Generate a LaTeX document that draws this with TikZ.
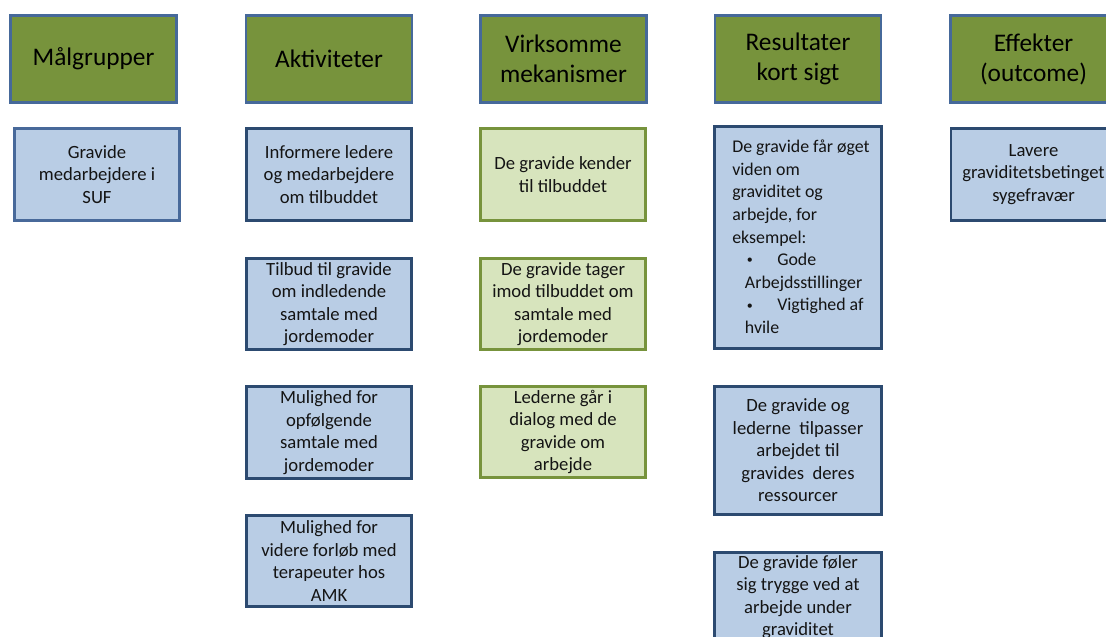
\documentclass[tikz,border=0pt]{standalone}
\usepackage{fontspec}
\setmainfont{Carlito}
\definecolor{headfill}{HTML}{77933C}
\definecolor{headborder}{HTML}{46699A}
\definecolor{boxfill}{HTML}{B9CDE5}
\definecolor{darkborder}{HTML}{2C4A70}
\definecolor{midborder}{HTML}{48699A}
\definecolor{greenfill}{HTML}{D7E4BD}
\definecolor{greenborder}{HTML}{77933C}
\definecolor{txt}{HTML}{141414}
\newcommand{\bodyfont}{\fontsize{14}{16.9}\selectfont}
\newcommand{\resfont}{\fontsize{13.4}{16.9}\selectfont}
\newcommand{\smallbullet}{\raisebox{1.2pt}{\fontsize{9}{9}\selectfont •}}
\begin{document}
\begin{tikzpicture}[x=0.75pt,y=-0.75pt,
  head/.style={draw=headborder, fill=headfill, line width=2.2pt,
    minimum width=124.5pt, minimum height=65.25pt, inner sep=0pt,
    align=center, font=\fontsize{19}{22.5}\selectfont, text=black},
  bluebox/.style={draw=darkborder, fill=boxfill, line width=2.2pt,
    minimum width=123.75pt, inner sep=0pt, align=center,
    font=\bodyfont, text=txt},
  greenbox/.style={bluebox, draw=greenborder, fill=greenfill},
  lightbox/.style={bluebox, draw=midborder},
  hfour/.style={minimum height=68.5pt},
  hfive/.style={minimum height=69pt}
]
\useasboundingbox (0,0) rectangle (1106,636);
\clip (0,0) rectangle (1106,636);

% headers
\node[head] (h1) at (93.5,59) {Målgrupper};
\node[head] (h2) at (329,59) {Aktiviteter};
\node[head] (h3) at (563.5,59) {Virksomme\\mekanismer};
\node[head] (h4) at (798,59) {Resultater\\kort sigt};
\node[head] (h5) at (1033.5,59) {Effekter\\(outcome)};

% target group
\node[lightbox, hfive] (g1) at (97,174.5) {Gravide\\medarbejdere i\\SUF};

% activities
\node[bluebox, hfive] (a1) at (329,174.5) {Informere ledere\\og medarbejdere\\om tilbuddet};
\node[bluebox, hfour] (a2) at (329,304) {Tilbud til gravide\\om indledende\\samtale med\\jordemoder};
\node[bluebox, hfour] (a3) at (329,432.5) {Mulighed for\\opfølgende\\samtale med\\jordemoder};
\node[bluebox, hfour] (a4) at (329,561) {Mulighed for\\videre forløb med\\terapeuter hos\\AMK};

% mechanisms
\node[greenbox, hfive] (m1) at (563,174.5) {De gravide kender\\til tilbuddet};
\node[greenbox, hfour] (m2) at (563,304) {De gravide tager\\imod tilbuddet om\\samtale med\\jordemoder};
\node[greenbox, hfour] (m3) at (563,432) {Lederne går i\\dialog med de\\gravide om\\arbejde};

% short-term results
\node[bluebox, minimum width=125pt, minimum height=166.5pt] (r1) at (798,237.5) {};
\node[anchor=north west, inner sep=0pt, align=left, font=\resfont, text=txt] (r1t) at (732,140)
  {De gravide får øget\\viden om\\graviditet og\\arbejde, for\\eksempel:\\
   \hspace*{11pt}\makebox[22.75pt][l]{\smallbullet}Gode\\
   \hspace*{9.5pt}Arbejdsstillinger\\
   \hspace*{11pt}\makebox[22.75pt][l]{\smallbullet}Vigtighed af\\
   \hspace*{9.5pt}hvile};
\node[bluebox, minimum width=125pt, minimum height=96pt] (r2) at (798,450.5)
  {De gravide og\\lederne\ \ tilpasser\\arbejdet til\\gravides\ \ deres\\ressourcer};
\node[bluebox, minimum width=125pt, minimum height=66.75pt] (r3) at (798,597)
  {De gravide føler\\sig trygge ved at\\arbejde under\\graviditet};

% effects
\node[bluebox, hfive] (e1) at (1033.5,174.5) {Lavere\\graviditetsbetinget\\sygefravær};
\end{tikzpicture}
\end{document}
